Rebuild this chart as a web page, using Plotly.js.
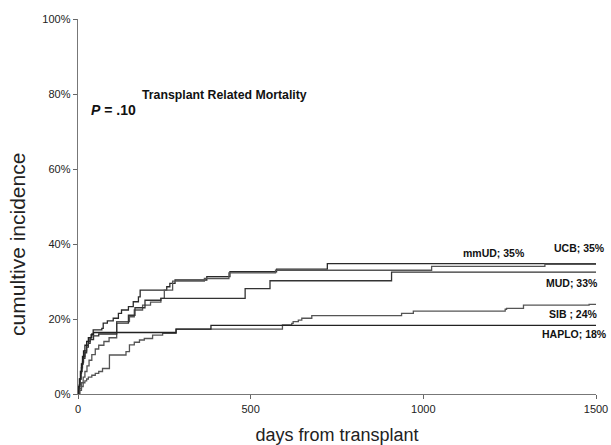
<!DOCTYPE html>
<html>
<head>
<meta charset="utf-8">
<script src="https://cdn.plot.ly/plotly-3.0.1.min.js"></script>
<style>html,body{margin:0;padding:0;background:#fff;}#chart{width:611px;height:445px;}</style>
</head>
<body>
<div id="chart"></div>
<script>
// Cumulative incidence (%) by days from transplant
const mmudDays = [0,2,4,6,8,10,13,16,20,25,30,35,40,44,69,73,85,102,117,126,146,160,175,180,257,266,281,373,440,575,722,1500];
const mmudInc  = [0,1,2.5,4,5.5,7,8.5,10,11.5,13,14,15,16,17.1,17.5,18.9,19.5,20.2,21.5,22.4,23.3,24.6,25.9,27.7,28.6,29.5,30.4,31.3,32.6,33.3,34.75,34.75];

const ucbDays = [0,5,10,15,20,26,32,40,50,60,75,90,112,149,163,187,210,240,250,274,366,437,572,1024,1352,1500];
const ucbInc  = [0,1.5,3,4.5,6,7.5,9,10.5,12,13,14,15,19.3,20.6,22.4,23.7,24.5,25.5,27.7,30.1,30.8,32.3,33.0,34.05,34.6,34.6];

const mudDays = [0,3,6,9,12,15,20,25,30,35,45,60,112,146,165,194,240,484,556,908,1500];
const mudInc  = [0,2,4,6,8,9.5,11,12.5,13.5,14.5,15.5,16,18.9,21,23,25,25.5,28.1,30.2,32.5,32.5];

const sibDays = [0,5,10,15,20,25,30,40,50,60,71,91,139,149,163,178,192,216,245,284,592,619,623,638,648,677,937,971,1237,1241,1290,1480,1500];
const sibInc  = [0,1,2,3,3.5,4,4.5,5,5.5,6,6.8,10.4,11.3,13.1,13.8,14.4,14.8,15.7,16.2,17.3,18.4,18.85,19.3,19.7,20.2,20.9,21.5,22.1,22.6,22.85,23.7,23.9,23.9];

const haploDays = [0,2,4,7,10,13,16,20,25,30,38,45,284,385,1500];
const haploInc  = [0,2,4,6,8,10,11.5,13,14,15,15.8,16.4,17.3,18.3,18.3];

const labels = ['mmUD; 35%','UCB; 35%','MUD; 33%','SIB ; 24%','HAPLO; 18%'];
const xTicks = [0,500,1000,1500];
const yTicks = [0,20,40,60,80,100];

function tr(x,y,c){return {x:x,y:y,type:'scatter',mode:'lines',line:{shape:'hv',color:c,width:1.3},showlegend:false,hoverinfo:'skip'};}
const data = [
  tr(mmudDays,mmudInc,'#2a2a2a'),
  tr(ucbDays,ucbInc,'#555555'),
  tr(mudDays,mudInc,'#333333'),
  tr(sibDays,sibInc,'#555555'),
  tr(haploDays,haploInc,'#222222')
];

const ff = 'Arial, Liberation Sans, sans-serif';
const lf = {family:ff,size:10.5,color:'#111'};
const layout = {
  width:611,height:445,
  margin:{l:78,r:15,t:19,b:51},
  paper_bgcolor:'#fff',plot_bgcolor:'#fff',
  font:{family:ff,color:'#222'},
  xaxis:{range:[0,1500],tickvals:xTicks,ticktext:xTicks.map(String),ticks:'outside',ticklen:4,tickcolor:'#666',
    showline:true,linecolor:'#777',linewidth:1.3,showgrid:false,zeroline:false,
    tickfont:{size:11,color:'#222'},
    title:{text:'days from transplant',font:{size:18,color:'#222'},standoff:15}},
  yaxis:{range:[0,100],tickvals:yTicks,ticktext:yTicks.map(v=>v+'%'),ticks:'outside',ticklen:4,tickcolor:'#666',
    showline:true,linecolor:'#777',linewidth:1.3,showgrid:false,zeroline:false,
    tickfont:{size:11,color:'#222'},
    title:{text:''}},
  annotations:[
    {text:'cumultive incidence',textangle:-90,x:-0.118,y:0.40,xref:'paper',yref:'paper',xanchor:'center',yanchor:'middle',showarrow:false,font:{family:ff,size:21,color:'#222'}},
    {text:'<b>Transplant Related Mortality</b>',x:180,y:79.7,xref:'x',yref:'y',xanchor:'left',yanchor:'middle',showarrow:false,font:{family:ff,size:12.3,color:'#111'}},
    {text:'<b><i>P</i> = .10</b>',x:32,y:75.7,xref:'x',yref:'y',xanchor:'left',yanchor:'middle',showarrow:false,font:{family:ff,size:14,color:'#111'}},
    {text:'<b>'+labels[0]+'</b>',x:1108,y:37.6,xref:'x',yref:'y',xanchor:'left',yanchor:'middle',showarrow:false,font:lf},
    {text:'<b>'+labels[1]+'</b>',x:1.0212,y:38.9,xref:'paper',yref:'y',xanchor:'right',yanchor:'middle',showarrow:false,font:lf},
    {text:'<b>'+labels[2]+'</b>',x:1.0077,y:29.6,xref:'paper',yref:'y',xanchor:'right',yanchor:'middle',showarrow:false,font:lf},
    {text:'<b>'+labels[3]+'</b>',x:1.0077,y:21.3,xref:'paper',yref:'y',xanchor:'right',yanchor:'middle',showarrow:false,font:lf},
    {text:'<b>'+labels[4]+'</b>',x:1.0251,y:16.0,xref:'paper',yref:'y',xanchor:'right',yanchor:'middle',showarrow:false,font:lf}
  ]
};
Plotly.newPlot('chart',data,layout,{staticPlot:true,displayModeBar:false});
</script>
</body>
</html>
